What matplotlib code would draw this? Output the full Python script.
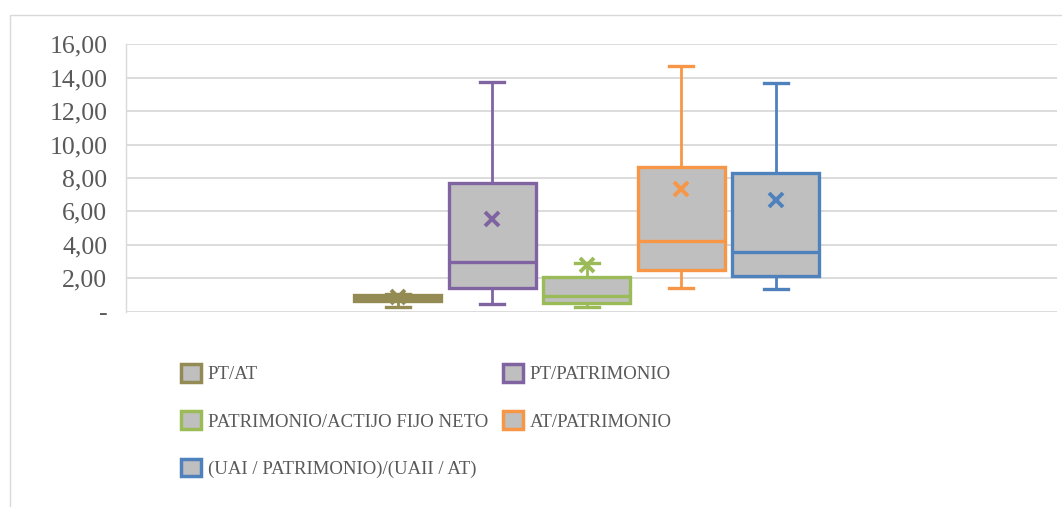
import matplotlib
matplotlib.use("Agg")
import matplotlib.pyplot as plt
from matplotlib.patches import Patch, Rectangle

# Ratio series (one category, five box-and-whisker series)
series = ["PT/AT", "PT/PATRIMONIO", "PATRIMONIO/ACTIJO FIJO NETO",
          "AT/PATRIMONIO", "(UAI / PATRIMONIO)/(UAII / AT)"]
whisker_low = [0.26, 0.46, 0.26, 1.44, 1.34]
q1 = [0.62, 1.44, 0.50, 2.49, 2.14]
median = [0.81, 2.95, 0.95, 4.23, 3.59]
q3 = [1.00, 7.68, 2.05, 8.67, 8.28]
whisker_high = [1.05, 13.72, 2.93, 14.71, 13.66]
mean = [0.85, 5.53, 2.80, 7.32, 6.68]
colors = ["#948A54", "#8064A2", "#9BBB59", "#F79646", "#4F81BD"]
fill = "#BFBFBF"
yticks = [0, 2, 4, 6, 8, 10, 12, 14, 16]
ytick_labels = ["-", "2,00", "4,00", "6,00", "8,00", "10,00", "12,00", "14,00", "16,00"]

plt.rcParams["font.family"] = ["Liberation Serif", "DejaVu Serif"]

fig = plt.figure(figsize=(10.62, 5.07), dpi=100)
ax = fig.add_axes([0.1186, 0.3852, 0.8767, 0.5274])

# chart border
fig.patches.append(Rectangle((9.5 / 1062, -0.05), 1.1, 0.05 + 1 - 15 / 507,
                             transform=fig.transFigure, fill=False,
                             edgecolor="#D9D9D9", linewidth=1.0, zorder=0))

spacing = 0.1015
width = 0.0934
center = 0.495
for i in range(len(series)):
    pos = center + (i - 2) * spacing
    stats = [dict(med=median[i], q1=q1[i], q3=q3[i],
                  whislo=whisker_low[i], whishi=whisker_high[i],
                  mean=mean[i], fliers=[])]
    c = colors[i]
    ax.bxp(stats, positions=[pos], widths=width, capwidths=0.026,
           showmeans=True, patch_artist=True, manage_ticks=False,
           boxprops=dict(facecolor=fill, edgecolor=c, linewidth=2.4),
           medianprops=dict(color=c, linewidth=2.4),
           whiskerprops=dict(color=c, linewidth=2.0),
           capprops=dict(color=c, linewidth=2.4),
           meanprops=dict(marker="x", markeredgecolor=c, markersize=10,
                          markeredgewidth=2.8),
           zorder=3)

ax.set_xlim(0, 1)
ax.set_ylim(0, 16)
ax.set_yticks(yticks)
ax.set_yticklabels(ytick_labels)
ax.set_xticks([])
ax.tick_params(axis="y", length=0, pad=13.5, labelsize=18.5, labelcolor="#595959")
ax.grid(axis="y", color="#D9D9D9", linewidth=1.3, zorder=0)
ax.set_axisbelow(True)
for s in ["top", "right", "bottom"]:
    ax.spines[s].set_visible(False)
ax.spines["left"].set_color("#D9D9D9")
ax.spines["left"].set_linewidth(1.0)

handles = [Patch(facecolor=fill, edgecolor=c, linewidth=2.5) for c in colors]
order = [0, 2, 4, 1, 3]
fig.legend([handles[k] for k in order], [series[k] for k in order],
           loc="upper left", bbox_to_anchor=(181 / 1062, 1 - 364 / 507),
           ncol=2, frameon=False, fontsize=13.5, handlelength=1.07,
           handleheight=1.07, handletextpad=0.35, labelspacing=1.5,
           columnspacing=0.8, borderpad=0, borderaxespad=0,
           labelcolor="#595959")

fig.savefig("out.png", dpi=100)
